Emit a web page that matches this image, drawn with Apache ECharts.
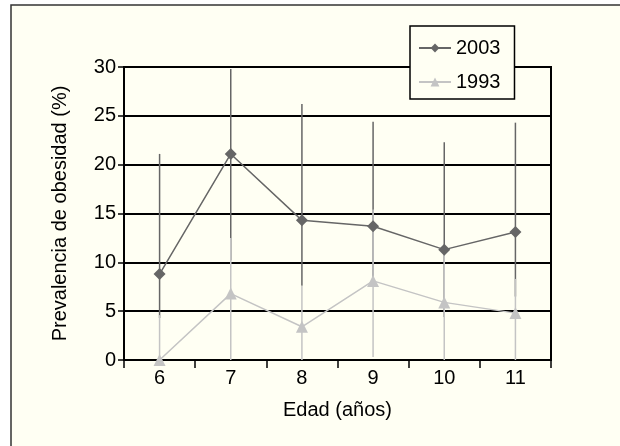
<!DOCTYPE html>
<html>
<head>
<meta charset="utf-8">
<script src="https://cdn.jsdelivr.net/npm/echarts@6/dist/echarts.min.js"></script>
<style>html,body{margin:0;padding:0;background:#fff}#c{width:620px;height:446px}</style>
</head>
<body>
<div id="c"></div>
<script>
const categories = ['6', '7', '8', '9', '10', '11'];
const values2003 = [8.8, 21.1, 14.3, 13.7, 11.3, 13.1];
const low2003 = [4.3, 10.2, 7.6, 8.0, 4.4, 6.5];
const high2003 = [21.1, 29.8, 26.2, 24.4, 22.3, 24.3];
const values1993 = [0, 6.8, 3.4, 8.1, 5.9, 4.8];
const low1993 = [0, 0, 0, 0.3, 0, 0];
const high1993 = [4.6, 12.5, 7.6, 15.4, 11.0, 8.3];
const yTicks = [0, 5, 10, 15, 20, 25, 30];

const FONT = 'Liberation Sans, Arial, sans-serif';
const dark = '#666666';
const light = '#c4c4c4';

function errData(lo, hi) { return lo.map((l, i) => [i, l, hi[i]]); }
function errRender(color) {
  return function (params, api) {
    const p1 = api.coord([api.value(0), api.value(1)]);
    const p2 = api.coord([api.value(0), api.value(2)]);
    return { type: 'line', shape: { x1: p1[0], y1: p1[1], x2: p2[0], y2: p2[1] },
      style: { stroke: color, lineWidth: 1.5 } };
  };
}

const chart = echarts.init(document.getElementById('c'), null, { renderer: 'canvas' });
chart.setOption({
  backgroundColor: '#ffffff',
  animation: false,
  graphic: [{
    type: 'rect', z: -10, silent: true,
    shape: { x: 11, y: 5, width: 640, height: 470 },
    style: { fill: '#fffff3', stroke: '#333', lineWidth: 1.5 }
  }],
  textStyle: { fontFamily: FONT },
  grid: { left: 124, right: 69, top: 67, bottom: 86, show: true, borderColor: '#000', borderWidth: 2, backgroundColor: 'transparent' },
  legend: {
    orient: 'vertical', left: 410, top: 26,
    backgroundColor: '#fffff3', borderColor: '#000', borderWidth: 1.5,
    padding: [12, 14, 7, 8], itemGap: 14, itemWidth: 32, itemHeight: 11,
    textStyle: { fontSize: 20, color: '#000', fontFamily: FONT },
    data: ['2003', '1993']
  },
  xAxis: {
    type: 'category', data: categories, boundaryGap: true,
    name: 'Edad (años)', nameLocation: 'middle', nameGap: 40,
    nameTextStyle: { fontSize: 20, color: '#000', fontFamily: FONT },
    axisLine: { lineStyle: { color: '#000', width: 2 } },
    axisTick: { show: true, length: 8, lineStyle: { color: '#000', width: 1.5 } },
    axisLabel: { fontSize: 20, color: '#000', margin: 8, fontFamily: FONT },
    splitLine: { show: false }
  },
  yAxis: {
    type: 'value', min: yTicks[0], max: yTicks[yTicks.length - 1], interval: 5,
    name: 'Prevalencia de obesidad (%)', nameLocation: 'middle', nameGap: 54,
    nameTextStyle: { fontSize: 20, color: '#000', fontFamily: FONT },
    axisLine: { show: true, lineStyle: { color: '#000', width: 2 } },
    axisTick: { show: true, length: 6, lineStyle: { color: '#000', width: 1.5 } },
    axisLabel: { fontSize: 20, color: '#000', margin: 8, fontFamily: FONT },
    splitLine: { show: true, lineStyle: { color: '#000', width: 2 } }
  },
  series: [
    { type: 'custom', name: 'err2003', data: errData(low2003, high2003), renderItem: errRender(dark), z: 2, silent: true },
    { type: 'custom', name: 'err1993', data: errData(low1993, high1993), renderItem: errRender(light), z: 2, silent: true },
    { type: 'line', name: '2003', data: values2003, symbol: 'diamond', symbolSize: 12,
      lineStyle: { color: dark, width: 1.5 }, itemStyle: { color: dark }, z: 4 },
    { type: 'line', name: '1993', data: values1993, symbol: 'triangle', symbolSize: 12,
      lineStyle: { color: light, width: 1.5 }, itemStyle: { color: light }, z: 3 }
  ]
});
</script>
</body>
</html>
